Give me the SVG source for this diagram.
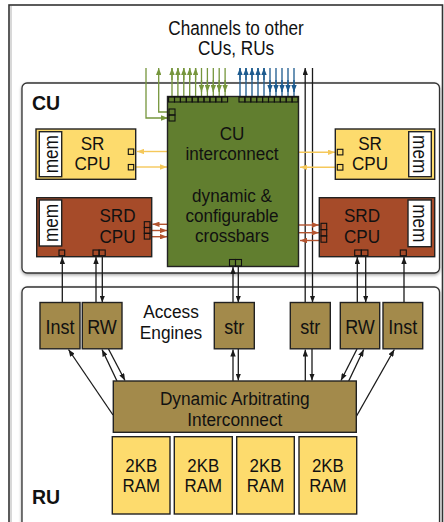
<svg xmlns="http://www.w3.org/2000/svg" width="444" height="522" viewBox="0 0 444 522">
  <style>
    .t { font-family: "Liberation Sans", Arial, sans-serif; font-size: 19px; fill: #111; text-anchor: middle; }
    .b { font-family: "Liberation Sans", Arial, sans-serif; font-size: 19.5px; font-weight: bold; fill: #111; }
    .m { font-size: 21px; }
    .e { font-size: 20px; }
    .box { stroke: #222; stroke-width: 1.4; }
    .port { fill: none; stroke: #111; stroke-width: 1.1; }
    .k { fill: none; stroke: #1a1a1a; stroke-width: 1.3; }
    .g { fill: none; stroke: #76963c; stroke-width: 1.3; }
    .u { fill: none; stroke: #1d5b8f; stroke-width: 1.3; }
    .y { fill: none; stroke: #f5c85a; stroke-width: 1.4; }
    .r { fill: none; stroke: #b4542f; stroke-width: 1.4; }
    .ram { fill: #fddb6d; }
    .eng { fill: #a38a4b; }
  </style>
  <defs>
    <filter id="sh" x="-5%" y="-5%" width="110%" height="115%">
      <feDropShadow dx="0" dy="1.5" stdDeviation="1.6" flood-color="#000" flood-opacity="0.35"/>
    </filter>
    <marker id="ak" markerUnits="userSpaceOnUse" markerWidth="7" markerHeight="5.4" viewBox="0 0 7 5.4" refX="7" refY="2.7" orient="auto"><path d="M0,0 L7,2.7 L0,5.4 z" fill="#1a1a1a"/></marker>
    <marker id="ag" markerUnits="userSpaceOnUse" markerWidth="7" markerHeight="5.4" viewBox="0 0 7 5.4" refX="7" refY="2.7" orient="auto"><path d="M0,0 L7,2.7 L0,5.4 z" fill="#76963c"/></marker>
    <marker id="au" markerUnits="userSpaceOnUse" markerWidth="7" markerHeight="5.4" viewBox="0 0 7 5.4" refX="7" refY="2.7" orient="auto"><path d="M0,0 L7,2.7 L0,5.4 z" fill="#1d5b8f"/></marker>
    <marker id="ay" markerUnits="userSpaceOnUse" markerWidth="7" markerHeight="5.4" viewBox="0 0 7 5.4" refX="7" refY="2.7" orient="auto"><path d="M0,0 L7,2.7 L0,5.4 z" fill="#f5c85a"/></marker>
    <marker id="ar" markerUnits="userSpaceOnUse" markerWidth="7" markerHeight="5.4" viewBox="0 0 7 5.4" refX="7" refY="2.7" orient="auto"><path d="M0,0 L7,2.7 L0,5.4 z" fill="#b4542f"/></marker>
  </defs>

  <rect width="444" height="522" fill="#fff"/>

  <!-- outer frame -->
  <g id="frame">
    <rect x="9" y="5" width="433.5" height="540" fill="none" stroke="#333" stroke-width="1.6"/>
    <line x1="11" y1="6" x2="11" y2="522" stroke="#c8c8c8" stroke-width="1.4"/>
    <text class="t" transform="translate(236 34.7) scale(.88 1)" style="font-size:19.5px"><tspan x="0" y="0">Channels to other</tspan><tspan x="0" dy="20.3">CUs, RUs</tspan></text>
  </g>

  <!-- compute unit and resource unit panels -->
  <g id="cu">
    <rect x="22" y="83" width="417.5" height="190" rx="5" fill="#fff" stroke="#333" stroke-width="1.3" filter="url(#sh)"/>
    <text class="b" x="32" y="110">CU</text>
  </g>
  <g id="ru">
    <rect x="22" y="287" width="417.5" height="250" rx="5" fill="#fff" stroke="#333" stroke-width="1.3" filter="url(#sh)"/>
    <text class="b" x="32" y="504">RU</text>
  </g>

  <!-- connectors -->
  <g id="connectors">
    <!-- channels: green -->
    <path class="g" d="M146 68 V118 H168" marker-end="url(#ag)"/>
    <path class="g" d="M169 112 H158.7 V68" marker-end="url(#ag)"/>
    <path class="g" d="M172 97 V68 M177.9 97 V68 M183.8 97 V68 M189.7 97 V68 M195.6 97 V68" />
    <path class="g" d="M172 80 V68" marker-end="url(#ag)"/>
    <path class="g" d="M177.9 80 V68" marker-end="url(#ag)"/>
    <path class="g" d="M183.8 80 V68" marker-end="url(#ag)"/>
    <path class="g" d="M189.7 80 V68" marker-end="url(#ag)"/>
    <path class="g" d="M195.6 80 V68" marker-end="url(#ag)"/>
    <path class="g" d="M201.5 68 V97 M207.4 68 V97 M213.3 68 V97 M219.2 68 V97 M225.1 68 V97"/>
    <path class="g" d="M201.5 80 V92" marker-end="url(#ag)"/>
    <path class="g" d="M207.4 80 V92" marker-end="url(#ag)"/>
    <path class="g" d="M213.3 80 V92" marker-end="url(#ag)"/>
    <path class="g" d="M219.2 80 V92" marker-end="url(#ag)"/>
    <path class="g" d="M225.1 80 V92" marker-end="url(#ag)"/>
    <!-- channels: blue -->
    <path class="u" d="M240 97 V68 M246 97 V68 M252 97 V68 M258 97 V68 M264 97 V68"/>
    <path class="u" d="M240 80 V68" marker-end="url(#au)"/>
    <path class="u" d="M246 80 V68" marker-end="url(#au)"/>
    <path class="u" d="M252 80 V68" marker-end="url(#au)"/>
    <path class="u" d="M258 80 V68" marker-end="url(#au)"/>
    <path class="u" d="M264 80 V68" marker-end="url(#au)"/>
    <path class="u" d="M270 68 V97 M276 68 V97 M282 68 V97 M288 68 V97 M294 68 V97"/>
    <path class="u" d="M270 80 V92" marker-end="url(#au)"/>
    <path class="u" d="M276 80 V92" marker-end="url(#au)"/>
    <path class="u" d="M282 80 V92" marker-end="url(#au)"/>
    <path class="u" d="M288 80 V92" marker-end="url(#au)"/>
    <path class="u" d="M294 80 V92" marker-end="url(#au)"/>
    <!-- stream engine on the right to/from channels -->
    <path class="k" d="M305.2 302.5 V68" marker-end="url(#ak)"/>
    <path class="k" d="M312.5 68 V302.5" marker-end="url(#ak)"/>

    <!-- SR CPUs -->
    <path class="y" d="M167.5 151.5 H137" marker-end="url(#ay)"/>
    <path class="y" d="M136 167 H167" marker-end="url(#ay)"/>
    <path class="y" d="M298.5 152.3 H335" marker-end="url(#ay)"/>
    <path class="y" d="M335 167.3 H300" marker-end="url(#ay)"/>
    <!-- SRD CPUs -->
    <path class="r" d="M167.5 224.3 H152.5" marker-end="url(#ar)"/>
    <path class="r" d="M152 230.5 H167" marker-end="url(#ar)"/>
    <path class="r" d="M152 236.7 H167" marker-end="url(#ar)"/>
    <path class="r" d="M298.5 225 H319" marker-end="url(#ar)"/>
    <path class="r" d="M298.5 232.7 H319" marker-end="url(#ar)"/>
    <path class="r" d="M319 240.5 H300" marker-end="url(#ar)"/>

    <!-- access engines to CPUs / crossbar -->
    <path class="k" d="M62.3 302.5 V257" marker-end="url(#ak)"/>
    <path class="k" d="M96 302.5 V257" marker-end="url(#ak)"/>
    <path class="k" d="M102.3 256 V302.5" marker-end="url(#ak)"/>
    <path class="k" d="M233 302.5 V267" marker-end="url(#ak)"/>
    <path class="k" d="M238.3 266.5 V302.5" marker-end="url(#ak)"/>
    <path class="k" d="M357.3 302.5 V257" marker-end="url(#ak)"/>
    <path class="k" d="M365.7 256 V302.5" marker-end="url(#ak)"/>
    <path class="k" d="M404 302.5 V257" marker-end="url(#ak)"/>

    <!-- access engines to arbitrating interconnect -->
    <path class="k" d="M113 415 L68.5 349.5" marker-end="url(#ak)"/>
    <path class="k" d="M117 381 L102 349.5" marker-end="url(#ak)"/>
    <path class="k" d="M108.5 349 L125 380.5" marker-end="url(#ak)"/>
    <path class="k" d="M233 381 V349.5" marker-end="url(#ak)"/>
    <path class="k" d="M238.3 349 V380.5" marker-end="url(#ak)"/>
    <path class="k" d="M305.3 381 V349.5" marker-end="url(#ak)"/>
    <path class="k" d="M312 349 V380.5" marker-end="url(#ak)"/>
    <path class="k" d="M357 349 L341 380.5" marker-end="url(#ak)"/>
    <path class="k" d="M348.7 381 L363.7 349.5" marker-end="url(#ak)"/>
    <path class="k" d="M356 417 L394.3 349.5" marker-end="url(#ak)"/>
  </g>

  <!-- CU interconnect -->
  <g id="interconnect">
    <rect class="box" x="167.5" y="96.5" width="131" height="170" fill="#617e2f"/>
    <g class="port" fill="#617e2f">
      <rect x="168.6" y="97" width="5.9" height="5"/><rect x="174.5" y="97" width="5.9" height="5"/>
      <rect x="180.4" y="97" width="5.9" height="5"/><rect x="186.3" y="97" width="5.9" height="5"/>
      <rect x="192.2" y="97" width="5.9" height="5"/><rect x="198.1" y="97" width="5.9" height="5"/>
      <rect x="204" y="97" width="5.9" height="5"/><rect x="209.9" y="97" width="5.9" height="5"/>
      <rect x="215.8" y="97" width="5.9" height="5"/><rect x="221.7" y="97" width="5.9" height="5"/>
      <rect x="239" y="97" width="5.9" height="5"/><rect x="244.9" y="97" width="5.9" height="5"/>
      <rect x="250.8" y="97" width="5.9" height="5"/><rect x="256.7" y="97" width="5.9" height="5"/>
      <rect x="262.6" y="97" width="5.9" height="5"/><rect x="268.5" y="97" width="5.9" height="5"/>
      <rect x="274.4" y="97" width="5.9" height="5"/><rect x="280.3" y="97" width="5.9" height="5"/>
      <rect x="286.2" y="97" width="5.9" height="5"/><rect x="292.1" y="97" width="5.9" height="5"/>
      <rect x="169" y="109" width="6" height="6"/><rect x="169" y="115" width="6" height="6"/>
      <rect x="229.5" y="259.5" width="6" height="6.5"/><rect x="235.5" y="259.5" width="6" height="6.5"/>
    </g>
    <text class="t" transform="translate(232 140) scale(.9 1)"><tspan x="0" y="0">CU</tspan><tspan x="0" dy="20">interconnect</tspan></text>
    <text class="t" transform="translate(232 201.7) scale(.9 1)"><tspan x="0" y="0">dynamic &amp;</tspan><tspan x="0" dy="20">configurable</tspan><tspan x="0" dy="20">crossbars</tspan></text>
  </g>

  <!-- SR CPU, left -->
  <g id="sr-left">
    <rect class="box" x="36" y="129" width="99.7" height="50.3" fill="#fddb6d"/>
    <rect class="box" x="39.3" y="131.7" width="22.4" height="45" fill="#fff"/>
    <text class="t m" transform="translate(58 154.2) rotate(-90) scale(.82 1)">mem</text>
    <rect class="port" x="128.3" y="149" width="5.4" height="5.4"/>
    <rect class="port" x="128.3" y="164.5" width="5.4" height="5.4"/>
    <text class="t" transform="translate(92.5 150) scale(.9 1)"><tspan x="0" y="0">SR</tspan><tspan x="0" dy="20.5">CPU</tspan></text>
  </g>

  <!-- SR CPU, right -->
  <g id="sr-right">
    <rect class="box" x="335.3" y="129" width="99.4" height="50.3" fill="#fddb6d"/>
    <rect class="box" x="408.7" y="131.7" width="22.6" height="45" fill="#fff"/>
    <text class="t m" transform="translate(412.6 154.2) rotate(90) scale(.82 1)">mem</text>
    <rect class="port" x="337.3" y="149.3" width="5.6" height="5.6"/>
    <rect class="port" x="337.3" y="164.5" width="5.6" height="5.6"/>
    <text class="t" transform="translate(370 150) scale(.9 1)"><tspan x="0" y="0">SR</tspan><tspan x="0" dy="20.5">CPU</tspan></text>
  </g>

  <!-- SRD CPU, left -->
  <g id="srd-left">
    <rect class="box" x="36.7" y="197.7" width="115" height="59" fill="#a64b29"/>
    <rect class="box" x="39.3" y="200" width="22.4" height="46" fill="#fff"/>
    <text class="t m" transform="translate(58 223) rotate(-90) scale(.82 1)">mem</text>
    <rect class="port" x="144.3" y="221.7" width="5.7" height="5.8"/>
    <rect class="port" x="144.3" y="227.5" width="5.7" height="5.8"/>
    <rect class="port" x="144.3" y="233.3" width="5.7" height="5.8"/>
    <rect class="port" x="59" y="250" width="5.7" height="5.7"/>
    <rect class="port" x="93" y="250" width="6.1" height="5.7"/>
    <rect class="port" x="99.1" y="250" width="6.1" height="5.7"/>
    <text class="t" transform="translate(117.5 221.7) scale(.9 1)"><tspan x="0" y="0">SRD</tspan><tspan x="0" dy="21">CPU</tspan></text>
  </g>

  <!-- SRD CPU, right -->
  <g id="srd-right">
    <rect class="box" x="319.3" y="197.7" width="115.4" height="59" fill="#a64b29"/>
    <rect class="box" x="408" y="200" width="23.3" height="46.7" fill="#fff"/>
    <text class="t m" transform="translate(412.6 223.3) rotate(90) scale(.82 1)">mem</text>
    <rect class="port" x="321" y="223.3" width="5.7" height="6.3"/>
    <rect class="port" x="321" y="229.6" width="5.7" height="6.3"/>
    <rect class="port" x="321" y="235.9" width="5.7" height="6.3"/>
    <rect class="port" x="354.7" y="250" width="6.6" height="5.7"/>
    <rect class="port" x="361.3" y="250" width="6.6" height="5.7"/>
    <rect class="port" x="400.3" y="250" width="6" height="5.7"/>
    <text class="t" transform="translate(362 221.7) scale(.9 1)"><tspan x="0" y="0">SRD</tspan><tspan x="0" dy="21">CPU</tspan></text>
  </g>

  <!-- access engines -->
  <g id="inst-left"><rect class="box eng" x="40" y="302.5" width="40" height="46.3"/><text class="t e" transform="translate(60 334) scale(.9 1)">Inst</text></g>
  <g id="rw-left"><rect class="box eng" x="82.3" y="302.5" width="39.7" height="46.3"/><text class="t e" transform="translate(102 334) scale(.9 1)">RW</text></g>
  <g id="str-left"><rect class="box eng" x="214.3" y="302.5" width="40" height="46.3"/><text class="t e" transform="translate(234.3 334) scale(.9 1)">str</text></g>
  <g id="str-right"><rect class="box eng" x="290.3" y="302.5" width="40" height="46.3"/><text class="t e" transform="translate(310.3 334) scale(.9 1)">str</text></g>
  <g id="rw-right"><rect class="box eng" x="340.3" y="302.5" width="39.4" height="46.3"/><text class="t e" transform="translate(360 334) scale(.9 1)">RW</text></g>
  <g id="inst-right"><rect class="box eng" x="383" y="302.5" width="39.7" height="46.3"/><text class="t e" transform="translate(402.8 334) scale(.9 1)">Inst</text></g>
  <g id="engines-label">
    <text class="t" transform="translate(171 318.3) scale(.91 1)"><tspan x="0" y="0">Access</tspan><tspan x="0" dy="21.2">Engines</tspan></text>
  </g>

  <!-- arbitrating interconnect -->
  <g id="arbiter">
    <rect class="box eng" x="113.3" y="381" width="243" height="51.3"/>
    <text class="t" transform="translate(234.8 405) scale(.91 1)"><tspan x="0" y="0">Dynamic Arbitrating</tspan><tspan x="0" dy="21">Interconnect</tspan></text>
  </g>

  <!-- RAM banks -->
  <g id="ram1"><rect class="box ram" x="112.3" y="436.7" width="57.7" height="77.3"/><text class="t" transform="translate(141.2 472) scale(.89 1)"><tspan x="0" y="0">2KB</tspan><tspan x="0" dy="20.5">RAM</tspan></text></g>
  <g id="ram2"><rect class="box ram" x="174.3" y="436.7" width="58" height="77.3"/><text class="t" transform="translate(203.3 472) scale(.89 1)"><tspan x="0" y="0">2KB</tspan><tspan x="0" dy="20.5">RAM</tspan></text></g>
  <g id="ram3"><rect class="box ram" x="236.7" y="436.7" width="57.6" height="77.3"/><text class="t" transform="translate(265.5 472) scale(.89 1)"><tspan x="0" y="0">2KB</tspan><tspan x="0" dy="20.5">RAM</tspan></text></g>
  <g id="ram4"><rect class="box ram" x="299" y="436.7" width="57.7" height="77.3"/><text class="t" transform="translate(327.9 472) scale(.89 1)"><tspan x="0" y="0">2KB</tspan><tspan x="0" dy="20.5">RAM</tspan></text></g>
</svg>
